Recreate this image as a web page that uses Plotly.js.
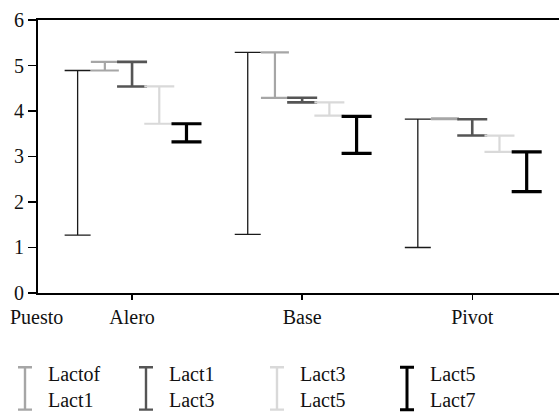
<!DOCTYPE html>
<html>
<head>
<meta charset="utf-8">
<script src="https://cdn.plot.ly/plotly-3.0.1.min.js"></script>
<style>html,body{margin:0;padding:0;background:#fff}#chart{width:559px;height:412px}</style>
</head>
<body>
<div id="chart"></div>
<script>
// ---- data ----
const categories = ['Alero', 'Base', 'Pivot'];
const seriesNames = ['Lactbasal–Lactof', 'Lactof–Lact1', 'Lact1–Lact3', 'Lact3–Lact5', 'Lact5–Lact7'];
const lows0  = [1.27, 1.29, 1.00];
const highs0 = [4.89, 5.29, 3.82];
const lows1  = [4.89, 4.29, 3.82];
const highs1 = [5.08, 5.29, 3.84];
const lows2  = [4.54, 4.19, 3.46];
const highs2 = [5.08, 4.29, 3.82];
const lows3  = [3.72, 3.90, 3.10];
const highs3 = [4.54, 4.19, 3.46];
const lows4  = [3.32, 3.07, 2.23];
const highs4 = [3.72, 3.88, 3.10];
const yTicks = [0, 1, 2, 3, 4, 5, 6];
const legendLabels = ['Lactof<br>Lact1', 'Lact1<br>Lact3', 'Lact3<br>Lact5', 'Lact5<br>Lact7'];

// ---- styles / layout helpers ----
const lows = [lows0, lows1, lows2, lows3, lows4];
const highs = [highs0, highs1, highs2, highs3, highs4];
const offsets = [-0.32, -0.16, 0, 0.16, 0.32];
const colors = ['#1a1a1a', '#a6a6a6', '#555555', '#d9d9d9', '#000000'];
const thick = [1.3, 2.2, 2.6, 2.2, 3.2];
const capW = [13, 14, 15, 15, 15];
const legendX = [25, 146, 277, 407];
const FONT = 'Liberation Serif, DejaVu Serif, Noto Serif, serif';

const traces = [];
for (let s = 0; s < 5; s++) {
  traces.push({
    type: 'scatter', mode: 'markers', name: seriesNames[s], showlegend: false,
    x: categories.map((c, i) => i + offsets[s]),
    y: highs[s],
    marker: {size: 1, opacity: 0},
    error_y: {type: 'data', symmetric: false,
      array: highs[s].map(() => 0),
      arrayminus: highs[s].map((h, i) => h - lows[s][i]),
      color: colors[s], thickness: thick[s], width: capW[s]},
    hoverinfo: 'skip', cliponaxis: false
  });
}
// legend icons on an auxiliary axis
for (let k = 0; k < 4; k++) {
  traces.push({
    type: 'scatter', mode: 'markers', showlegend: false, xaxis: 'x2', yaxis: 'y2',
    x: [legendX[k]], y: [0.95],
    marker: {size: 1, opacity: 0},
    error_y: {type: 'data', symmetric: false, array: [0], arrayminus: [0.9],
      color: colors[k + 1], thickness: k === 3 ? 3 : 2.4, width: 7},
    hoverinfo: 'skip', cliponaxis: false
  });
}

const annotations = legendLabels.map((t, k) => ({
  xref: 'x2', yref: 'y2', x: legendX[k] + 21, y: 0.54, text: t, showarrow: false,
  xanchor: 'left', yanchor: 'middle', align: 'left',
  font: {family: FONT, size: 20, color: '#111'}
}));
annotations.push({
  xref: 'paper', yref: 'paper', x: 36 / 559, y: 0.3036, yshift: -24,
  text: 'Puesto', showarrow: false, xanchor: 'center', yanchor: 'middle',
  font: {family: FONT, size: 20, color: '#111'}
});

const layout = {
  width: 559, height: 412,
  margin: {l: 0, r: 0, t: 20, b: 0},
  paper_bgcolor: '#fff', plot_bgcolor: '#fff',
  showlegend: false,
  font: {family: FONT, size: 20, color: '#111'},
  xaxis: {
    domain: [38 / 559, 1], range: [-0.553, 2.51],
    tickmode: 'array', tickvals: categories.map((c, i) => i), ticktext: categories,
    ticks: 'outside', ticklen: 5, tickwidth: 1.5, tickcolor: '#000',
    showline: true, linecolor: '#000', linewidth: 2, mirror: true,
    showgrid: false, zeroline: false, fixedrange: true,
    tickfont: {family: FONT, size: 20, color: '#111'}
  },
  yaxis: {
    domain: [0.3036, 1], range: [0, 6],
    tickmode: 'array', tickvals: yTicks,
    ticks: 'outside', ticklen: 8, tickwidth: 1.5, tickcolor: '#000',
    showline: true, linecolor: '#000', linewidth: 2, mirror: false,
    showgrid: false, zeroline: false, fixedrange: true,
    tickfont: {family: FONT, size: 20, color: '#111'}
  },
  xaxis2: {domain: [0, 1], range: [0, 559], visible: false, fixedrange: true, anchor: 'y2'},
  yaxis2: {domain: [0, 0.12], range: [0, 1], visible: false, fixedrange: true, anchor: 'x2'},
  annotations: annotations
};

Plotly.newPlot('chart', traces, layout, {staticPlot: true, displayModeBar: false});
</script>
</body>
</html>
